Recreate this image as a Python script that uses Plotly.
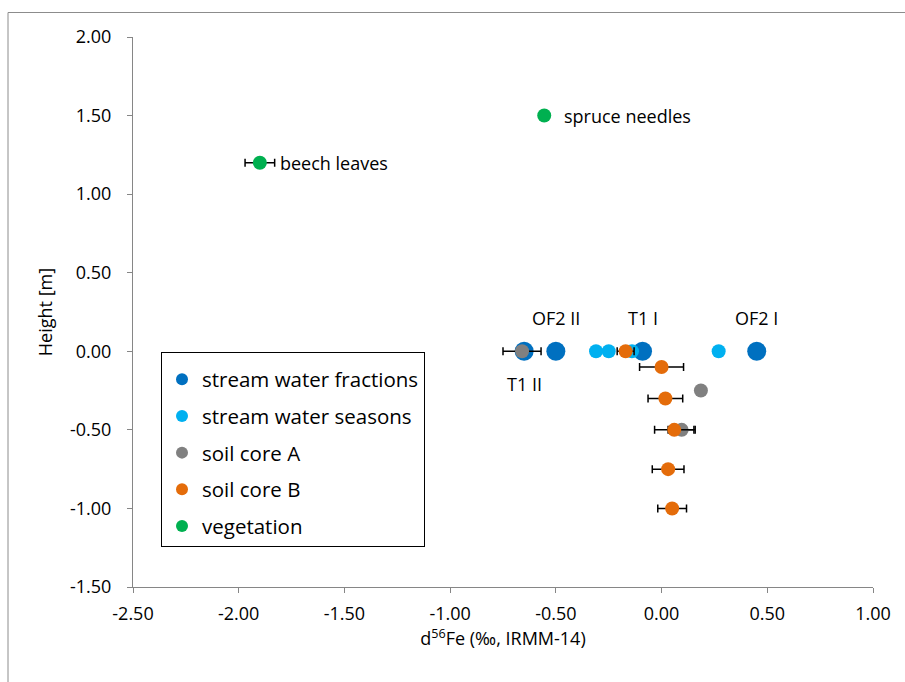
import plotly.graph_objects as go

# Stream water fractions (all at the stream surface, height 0 m)
frac_x = [-0.65, -0.50, -0.09, 0.45]
frac_y = [0.0, 0.0, 0.0, 0.0]
frac_labels = ["T1 II", "OF2 II", "T1 I", "OF2 I"]
frac_label_side = ["below", "above", "above", "above"]

# Stream water seasons
season_x = [-0.31, -0.25, -0.14, 0.27]
season_y = [0.0, 0.0, 0.0, 0.0]

# Soil core A
coreA_x = [-0.66, 0.186, 0.095]
coreA_y = [0.0, -0.25, -0.50]
coreA_err = [0.09, 0.0, 0.064]

# Soil core B
coreB_x = [-0.17, 0.00, 0.018, 0.06, 0.031, 0.05]
coreB_y = [0.0, -0.10, -0.30, -0.50, -0.75, -1.00]
coreB_err = [0.04, 0.104, 0.082, 0.093, 0.075, 0.068]

# Vegetation
veg_x = [-1.90, -0.555]
veg_y = [1.20, 1.50]
veg_err = [0.07, 0.0]
veg_labels = ["beech leaves", "spruce needles"]

x_ticks = [-2.5, -2.0, -1.5, -1.0, -0.5, 0.0, 0.5, 1.0]
y_ticks = [-1.5, -1.0, -0.5, 0.0, 0.5, 1.0, 1.5, 2.0]

FONT = "Open Sans"
FS = 18
LEGEND_FS = 20.5
AXIS_COLOR = "#868686"

err_style = dict(type="data", color="black", thickness=1.5, width=4)

fig = go.Figure()

fig.add_trace(go.Scatter(
    x=frac_x, y=frac_y, mode="markers", name="stream water fractions",
    legendgroup="a",
    marker=dict(color="#0070C0", size=19),
))
fig.add_trace(go.Scatter(
    x=season_x, y=season_y, mode="markers", name="stream water seasons",
    legendgroup="b",
    marker=dict(color="#00B0F0", size=14),
))
fig.add_trace(go.Scatter(
    x=coreA_x, y=coreA_y, mode="markers", name="soil core A",
    legendgroup="c",
    marker=dict(color="#808080", size=14),
    error_x=dict(array=coreA_err, **err_style),
))
fig.add_trace(go.Scatter(
    x=coreB_x, y=coreB_y, mode="markers", name="soil core B",
    legendgroup="d",
    marker=dict(color="#E46C0A", size=14),
    error_x=dict(array=coreB_err, **err_style),
))
fig.add_trace(go.Scatter(
    x=veg_x, y=veg_y, mode="markers", name="vegetation",
    legendgroup="e",
    marker=dict(color="#00B050", size=14),
    error_x=dict(array=veg_err, **err_style),
))

annotations = []
for x, y, txt, side in zip(frac_x, frac_y, frac_labels, frac_label_side):
    annotations.append(dict(
        x=x, y=y, xref="x", yref="y", text=txt, showarrow=False,
        xanchor="center", yanchor="middle",
        yshift=33 if side == "above" else -33,
        font=dict(family=FONT, size=FS, color="black"),
    ))
for x, y, txt in zip(veg_x, veg_y, veg_labels):
    annotations.append(dict(
        x=x, y=y, xref="x", yref="y", text=txt, showarrow=False,
        xanchor="left", yanchor="middle", xshift=18,
        font=dict(family=FONT, size=FS, color="black"),
    ))

fig.update_layout(
    width=905, height=682,
    margin=dict(l=133, r=32, t=37, b=95),
    paper_bgcolor="white", plot_bgcolor="white",
    font=dict(family=FONT, size=FS, color="black"),
    showlegend=True,
    legend=dict(
        x=(161 - 133) / 740, y=(587 - 352) / 550,
        xanchor="left", yanchor="top",
        bordercolor="black", borderwidth=1, bgcolor="white",
        itemsizing="constant", traceorder="grouped", tracegroupgap=7,
        entrywidth=270, entrywidthmode="pixels",
        title=dict(text=" ", font=dict(family=FONT, size=5)),
        font=dict(family=FONT, size=LEGEND_FS, color="black"),
    ),
    xaxis=dict(
        range=[-2.5, 1.0], tickvals=x_ticks,
        ticktext=[f"{v:.2f}" for v in x_ticks],
        showgrid=False, zeroline=False,
        showline=True, linecolor=AXIS_COLOR, linewidth=1,
        ticks="outside", ticklen=5, tickcolor=AXIS_COLOR,
        ticklabelstandoff=5,
        title=dict(text="d<sup>56</sup>Fe (‰, IRMM-14)", standoff=5,
                   font=dict(family=FONT, size=FS)),
    ),
    yaxis=dict(
        range=[-1.5, 2.0], tickvals=y_ticks,
        ticktext=[f"{v:.2f}" for v in y_ticks],
        showgrid=False, zeroline=False,
        showline=True, linecolor=AXIS_COLOR, linewidth=1,
        ticks="outside", ticklen=5, tickcolor=AXIS_COLOR,
        ticklabelstandoff=12,
        title=dict(text="Height [m]", standoff=12,
                   font=dict(family=FONT, size=FS)),
    ),
    annotations=annotations,
    shapes=[dict(
        type="rect", xref="paper", yref="paper",
        x0=(8 - 133) / 740, x1=(920 - 133) / 740,
        y0=(587 - 700) / 550, y1=(587 - 12.5) / 550,
        line=dict(color="#8c8c8c", width=1), fillcolor="rgba(0,0,0,0)",
        layer="below",
    )],
)

fig.write_html("out.html")
